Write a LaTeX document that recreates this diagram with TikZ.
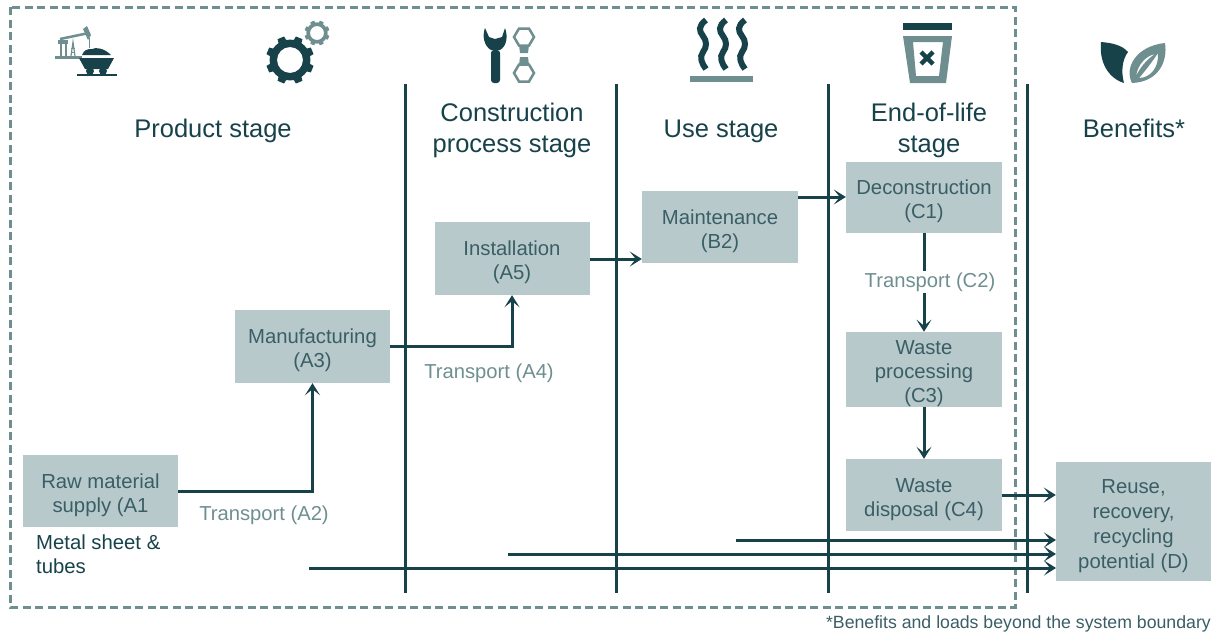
\documentclass[tikz,border=0pt]{standalone}
\usepackage{fontspec}
\setmainfont{Liberation Sans}
\usetikzlibrary{arrows.meta}
\definecolor{darkteal}{HTML}{17424A}
\definecolor{midteal}{HTML}{6E8E90}
\definecolor{paleteal}{HTML}{B8C9CB}
\newcommand{\boxtop}{\rule{0pt}{23pt}}
\tikzset{
stagebox/.style={fill=paleteal,text=darkteal!85!white,minimum width=155pt,align=center,inner sep=0pt,font=\fontsize{20.3}{24}\selectfont},
stagehead/.style={text=darkteal,align=center,inner sep=0pt,font=\fontsize{25.5}{31}\selectfont},
transportlabel/.style={text=midteal,inner sep=1pt,font=\fontsize{20.2}{24}\selectfont},
flow/.style={draw=darkteal,line width=3pt,-{Stealth[length=12pt,width=15pt,inset=6pt]}},
divider/.style={draw=darkteal,line width=3pt},
}
\begin{document}
\begin{tikzpicture}[x=1pt,y=-1pt]
\useasboundingbox(0,0)rectangle(1211,635);
\draw[midteal,line width=3pt,dash pattern=on 8pt off 4.5pt](10,7)rectangle(1015,607);
\draw[divider](405,84)--(405,593);\draw[divider](616,84)--(616,593);\draw[divider](828,84)--(828,593);\draw[divider](1027,84)--(1027,593);
\node[stagehead](head1) at (213,131) {Product stage};
\node[stagehead](head2) at (512,130.5) {Construction\\process stage};
\node[stagehead](head3) at (721,131) {Use stage};
\node[stagehead](head4) at (929,130.5) {End-of-life\\stage};
\node[stagehead](head5) at (1134,128.5) {Benefits*};
\node[stagebox,minimum height=72pt](a1) at (100.5,491) {\boxtop Raw material\\supply (A1};
\node[stagebox,minimum height=73pt](a3) at (312.5,346.5) {\boxtop Manufacturing\\(A3)};
\node[stagebox,minimum height=73pt](a5) at (512,258.5) {\boxtop Installation\\(A5)};
\node[stagebox,minimum width=156pt,minimum height=72pt](b2) at (720,227) {\boxtop Maintenance\\(B2)};
\node[stagebox,minimum width=156pt,minimum height=71pt](c1) at (924,197.5) {\boxtop Deconstruction\\(C1)};
\node[stagebox,minimum width=156pt,minimum height=73pt](c3) at (924,369.5) {\boxtop Waste\\processing\\(C3)};
\node[stagebox,minimum width=156pt,minimum height=72pt](c4) at (924,495) {\boxtop Waste\\disposal (C4)};
\node[stagebox,minimum height=119pt,font=\fontsize{20.3}{25}\selectfont](d) at (1133.5,521.5) {\boxtop Reuse,\\recovery,\\recycling\\potential (D)};
\node[text=darkteal,align=left,inner sep=0pt,anchor=west,font=\fontsize{20.3}{24}\selectfont](metal) at (36,554) {Metal sheet \&\\tubes};
\node[transportlabel](t2) at (264,515) {Transport (A2)};
\node[transportlabel](t4) at (489,373) {Transport (A4)};
\node[transportlabel](t5) at (930,282) {Transport (C2)};
\node[text=darkteal!85!white,anchor=east,inner sep=0pt,font=\fontsize{17.7}{20}\selectfont](note) at (1211,624) {*Benefits and loads beyond the system boundary};
\coordinate(from1) at (736,540);\coordinate(to1) at (1056,540);
\coordinate(from2) at (508,554);\coordinate(to2) at (1056,554);
\coordinate(from3) at (309,568);\coordinate(to3) at (1056,568);
\draw[flow](a1.east)-|(a3.south);
\draw[flow](a3.east)-|(a5.south);
\draw[flow](a5.east|-0,259)--(b2.west|-0,259);
\draw[flow](b2.east|-0,197)--(c1.west|-0,197);
\draw[darkteal,line width=3pt](c1.south)--(t5.north-|c1.south);
\draw[flow](t5.south-|c3.north)--(c3.north);
\draw[flow](c3.south)--(c4.north);
\draw[flow](c4.east)--(d.west|-c4.east);
\draw[flow](from1)--(to1);\draw[flow](from2)--(to2);\draw[flow](from3)--(to3);
%pump and cart
\fill[midteal](55,56)rectangle(82,59);\fill[midteal](58,40)rectangle(68,44);
\fill[midteal](60,44)rectangle(62,56);\fill[midteal](65,44)rectangle(67,56);
\draw[midteal,line width=1.2pt](71,56)--(73,42)--(75,56);\draw[midteal,line width=1pt](71,48)--(75,48)(71,52)--(75,52);
\draw[midteal,line width=2.5pt](60,39)--(89,33);\fill[midteal](83,29)--(87,26)--(91,35)--(88,40)--cycle;\draw[midteal,line width=0.8pt](89,38)--(89,48);
\fill[darkteal](82,55)..controls(84,50)and(87,49)..(92,49)..controls(96,47)and(104,48)..(111,55)--cycle;
\fill[darkteal](79,58)--(114,58)--(108,69)--(85,69)--cycle;
\fill[darkteal](90,71)circle[radius=4];\fill[darkteal](103,71)circle[radius=4];
\fill[darkteal](77,74)rectangle(117,76);
%gears
\foreach \gx/\gy/\gr/\gh/\gw/\gc in {290/60/24/13/5/darkteal,317/33/12.5/7/2.8/midteal}{
\fill[\gc,even odd rule](\gx,\gy)circle[radius=\gr*0.85](\gx,\gy)circle[radius=\gh];
\foreach \ga in {0,45,...,315}
\fill[\gc,shift={(\gx,\gy)},rotate=\ga+22.5](\gh+1,-\gw)--(\gr,-\gw*0.7)--(\gr,\gw*0.7)--(\gh+1,\gw)--cycle;
}
%wrench and nuts
\fill[darkteal,rounded corners=3pt](491,50)rectangle(500,83);
\fill[darkteal](485,28)..controls(482,36)and(484,46)..(491,50)--(500,50)..controls(507,46)and(508,36)..(505,28)--(502,37)--(495,39)--(489,37)--cycle;
\draw[midteal,line width=2.5pt,shift={(524,37)}](-10,0)--(-5,-8.5)--(5,-8.5)--(10,0)--(5,8.5)--(-5,8.5)--cycle;
\draw[midteal,line width=2.5pt,shift={(524,73)}](-10,0)--(-5,-8.5)--(5,-8.5)--(10,0)--(5,8.5)--(-5,8.5)--cycle;
\fill[midteal](519,45)--(529,45)--(528,53)--(520,53)--cycle;\fill[midteal](520,57)--(528,57)--(529,65)--(519,65)--cycle;
%heat waves
\foreach \wx in {703,723,742}
\draw[darkteal,line width=6pt,shift={(\wx,0)}](3,20)..controls(-5,26)and(-4,31)..(0,36)..controls(4,41)and(4,47)..(0,52)..controls(-4,57)and(-1,64)..(3,69);
\fill[midteal](690,76)rectangle(753,82);
%bin
\fill[darkteal](903,23)rectangle(952,30);
\fill[midteal,even odd rule](903,36)--(952,36)--(946,83)--(910,83)--cycle(913,42)--(943,42)--(939,76)--(916,76)--cycle;
\draw[darkteal,line width=4.5pt](921,52)--(933,64)(933,52)--(921,64);
%leaves
\fill[darkteal](1101,42)..controls(1112,43)and(1122,45)..(1128,52)..controls(1122,60)and(1121,72)..(1124,83)..controls(1108,78)and(1099,62)..(1101,42)--cycle;
\fill[midteal,even odd rule](1165,43)..controls(1168,62)and(1158,82)..(1132,83)..controls(1124,68)and(1136,46)..(1165,43)--cycle
(1155,54)..controls(1146,56)and(1138,64)..(1136,76)..controls(1140,68)and(1146,60)..(1155,54)--cycle
(1158,53)..controls(1152,62)and(1146,70)..(1139,78)..controls(1150,78)and(1159,68)..(1158,53)--cycle;
\end{tikzpicture}
\end{document}
